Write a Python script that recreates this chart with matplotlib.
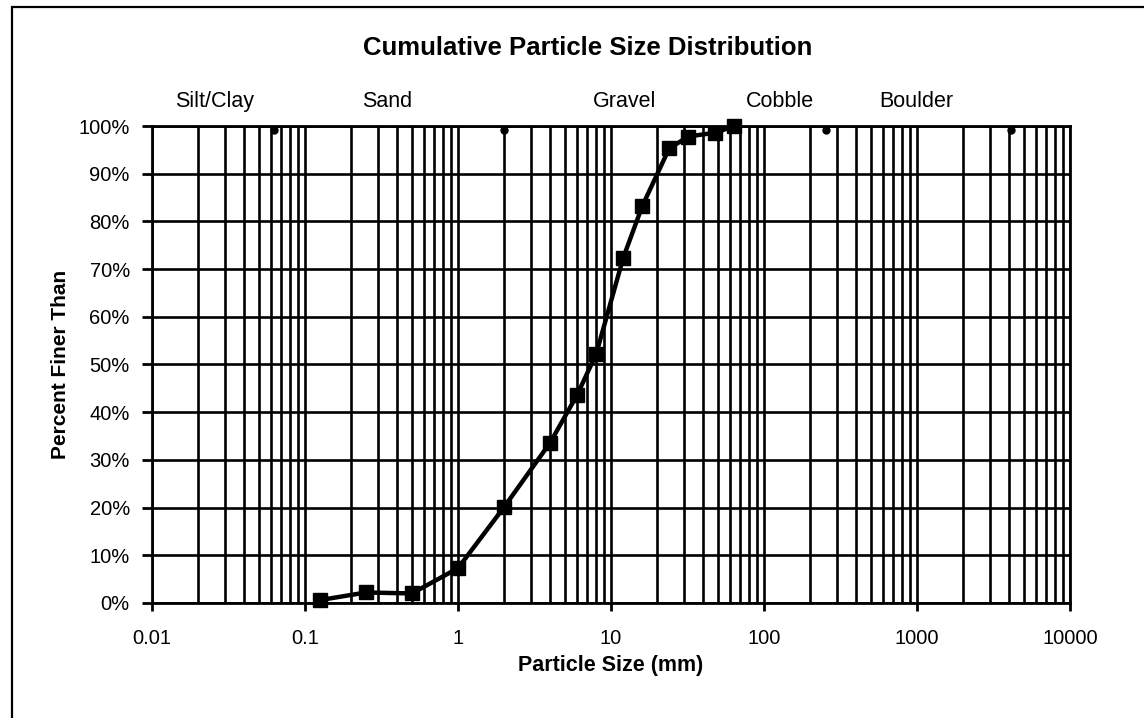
import matplotlib
matplotlib.use('Agg')
import matplotlib.pyplot as plt
from matplotlib.ticker import FixedLocator, LogLocator, NullFormatter, FuncFormatter
from matplotlib.patches import Rectangle
from matplotlib.transforms import blended_transform_factory

plt.rcParams['font.family'] = ['Liberation Sans', 'DejaVu Sans']

# particle size (mm) and cumulative percent finer
size_mm = [0.125, 0.25, 0.5, 1, 2, 4, 6, 8, 12, 16, 24, 32, 48, 64]
pct_finer = [0.6, 2.2, 2.0, 7.3, 20.1, 33.6, 43.6, 52.2, 72.3, 83.2, 95.3, 97.8, 98.6, 100]

# size class boundaries (mm) marked at the top
bounds_mm = [0.0625, 2, 256, 4096]
bounds_pct = [99.2, 99.2, 99.2, 99.2]

classes = ['Silt/Clay', 'Sand', 'Gravel', 'Cobble', 'Boulder']
class_x = [0.0258, 0.343, 12.25, 128, 985]

xticks = [0.01, 0.1, 1, 10, 100, 1000, 10000]
xtick_labels = ['0.01', '0.1', '1', '10', '100', '1000', '10000']

fig = plt.figure(figsize=(11.44, 7.18), dpi=100)
ax = fig.add_axes([0.1329, 0.1602, 0.8024, 0.6643])

ax.set_xscale('log')
ax.set_xlim(0.01, 10000)
ax.set_ylim(0, 100)

# grid
ax.xaxis.set_minor_locator(LogLocator(base=10, subs=range(2, 10)))
ax.xaxis.set_minor_formatter(NullFormatter())
ax.xaxis.set_major_locator(FixedLocator(xticks))
ax.set_xticklabels(xtick_labels)
ax.set_yticks(range(0, 101, 10))
ax.yaxis.set_major_formatter(FuncFormatter(lambda v, p: '%d%%' % v))
ax.grid(True, which='both', axis='x', color='black', lw=1.9)
ax.grid(True, which='major', axis='y', color='black', lw=1.9)
ax.set_axisbelow(True)

ax.tick_params(axis='x', which='major', direction='out', length=6, width=2, labelsize=14.5, pad=13)
ax.tick_params(axis='x', which='minor', length=0)
ax.tick_params(axis='y', direction='out', length=7, width=2, labelsize=14.5, pad=9)
for s in ax.spines.values():
    s.set_linewidth(2)

ax.plot(size_mm, pct_finer, color='black', lw=3.2, marker='s', markersize=9.5, clip_on=False, zorder=5)
ax.plot(bounds_mm, bounds_pct, ls='none', marker='o', markersize=5, color='black', zorder=4)

tr = blended_transform_factory(ax.transData, ax.transAxes)
for name, xc in zip(classes, class_x):
    ax.text(xc, 1.051, name, transform=tr, ha='center', va='center', fontsize=15.5)

fig.text(588 / 1144, 1 - 48 / 718, 'Cumulative Particle Size Distribution',
         ha='center', va='center', fontsize=18.5, fontweight='bold')
ax.set_xlabel('Particle Size (mm)', fontsize=15.5, fontweight='bold', labelpad=5)
ax.set_ylabel('Percent Finer Than', fontsize=15, fontweight='bold', labelpad=6)

# chart border
fig.patches.append(Rectangle((12 / 1144, -0.1), 1.2, 1 - 7 / 718 + 0.1, transform=fig.transFigure,
                             fill=False, edgecolor='black', lw=1.6))

fig.savefig('out.png', dpi=100)
